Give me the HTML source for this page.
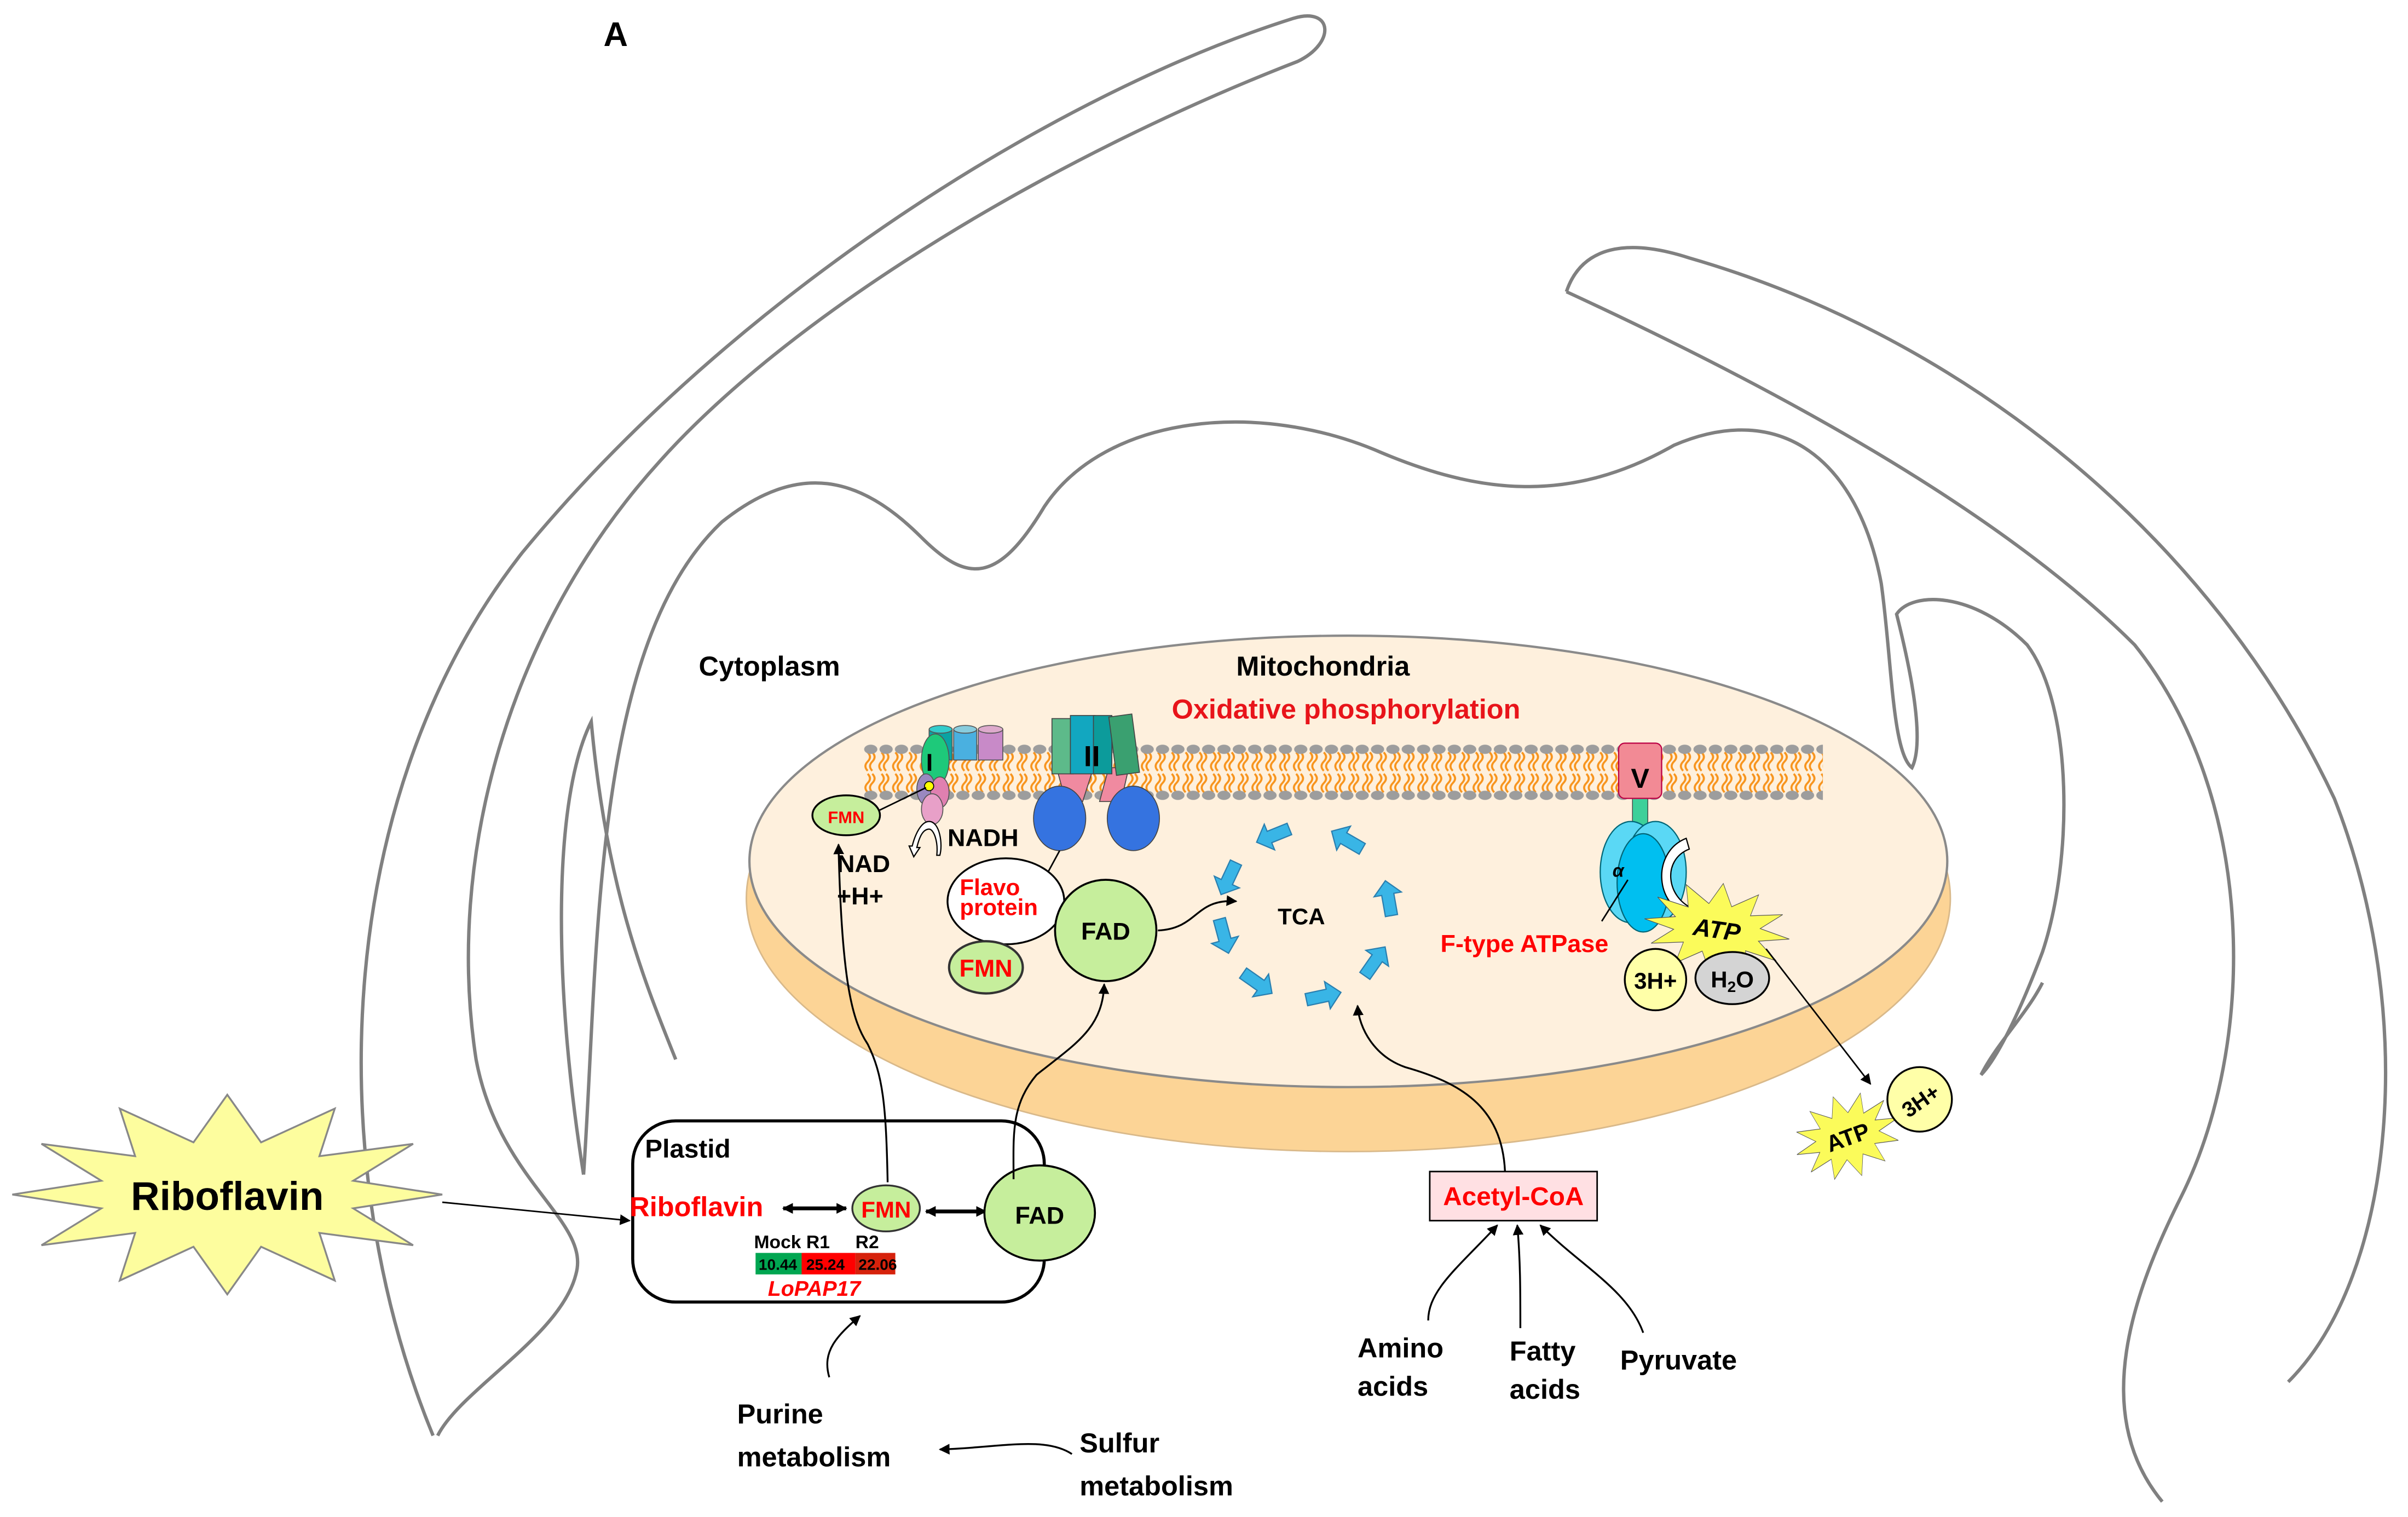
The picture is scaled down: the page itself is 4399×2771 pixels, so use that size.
<!DOCTYPE html>
<html><head><meta charset="utf-8"><style>
html,body{margin:0;padding:0;background:#fff;}
svg{display:block}
text{font-family:"Liberation Sans",sans-serif;font-weight:bold}
</style></head><body>
<svg width="4399" height="2771" viewBox="0 0 1568 988" preserveAspectRatio="none" xmlns="http://www.w3.org/2000/svg">
<defs>
<marker id="ah" viewBox="0 0 10 10" refX="9" refY="5" markerWidth="7" markerHeight="7" orient="auto-start-reverse" markerUnits="userSpaceOnUse"><path d="M0,0 L10,5 L0,10 z" fill="#000"/></marker>
<polygon id="star" points="288,778 230,787 269,811 208,803 218,834 170,812 148,843 126,812 78,834 88,803 27,811 66,787 8,778 66,769 27,745 88,753 78,722 126,744 148,713 170,744 218,722 208,753 269,745 230,769"/>
<pattern id="lip" x="562" y="489" width="9" height="28" patternUnits="userSpaceOnUse">
<path d="M3,1 q3,3 0,6 q-3,3 0,6 M6,15 q3,3 0,6 q-3,3 0,6" stroke="#f7941d" stroke-width="1.3" fill="none"/>
<path d="M6,1 q3,3 0,6 q-3,3 0,6 M3,15 q3,3 0,6 q-3,3 0,6" stroke="#f7941d" stroke-width="1.3" fill="none"/>
</pattern>
<pattern id="dots" x="562" y="485" width="10" height="36" patternUnits="userSpaceOnUse">
<ellipse cx="5" cy="3" rx="4.3" ry="3" fill="#9d9d9d"/>
<ellipse cx="5" cy="33" rx="4.3" ry="3" fill="#9d9d9d"/>
</pattern>
<g id="tcaArr"><path d="M-11,-4 L3,-4 L3,-9 L12,0 L3,9 L3,4 L-11,4 z" fill="#39b5e6" stroke="#2a7fb0" stroke-width="0.8"/></g>
</defs>

<!-- grey outlines -->
<g fill="none" stroke="#808080" stroke-width="2.2">
<path d="M282,935 C210,760 215,520 340,360 C480,190 690,60 842,12 C868,4 870,28 845,40 C690,100 520,200 430,300 C330,410 290,560 310,690 C325,770 385,795 375,830 C365,870 300,905 285,935"/>
<path d="M380,765 C360,640 360,520 385,470 C395,580 420,640 440,690 M380,765 C390,620 385,420 470,340 C520,300 560,310 600,350 C630,380 650,380 680,330 C720,270 820,260 900,295 C960,320 1020,330 1090,290 C1160,260 1210,300 1225,380 C1232,430 1232,490 1245,500 C1255,480 1240,420 1235,400 C1245,385 1285,385 1320,420 C1350,460 1350,560 1330,620 C1315,660 1300,690 1290,700 C1300,680 1320,660 1330,640"/>
<path d="M1020,190 C1030,160 1060,155 1100,168 C1280,220 1440,350 1520,520 C1575,660 1560,830 1490,900 M1020,190 C1150,250 1300,330 1390,420 C1470,520 1470,680 1420,780 C1390,840 1360,920 1408,978"/>
</g>

<!-- mitochondria -->
<ellipse cx="878" cy="585" rx="392" ry="165" fill="#fcd496" stroke="#d9b98a" stroke-width="1"/>
<ellipse cx="878" cy="561" rx="390" ry="147" fill="#fef0dd" stroke="#8a8a8a" stroke-width="1.5"/>

<!-- membrane -->
<rect x="562" y="489" width="625" height="28" fill="url(#lip)"/>
<rect x="562" y="485" width="625" height="36" fill="url(#dots)"/>

<!-- Complex I -->
<g stroke="#555" stroke-width="0.6">
<rect x="605" y="475" width="15" height="20" fill="#0aa3a3"/><ellipse cx="612.5" cy="475" rx="7.5" ry="2.5" fill="#3cc"/>
<rect x="621" y="475" width="15" height="20" fill="#4ab0e0"/><ellipse cx="628.5" cy="475" rx="7.5" ry="2.5" fill="#8cd"/>
<rect x="637" y="475" width="16" height="20" fill="#c88ac8"/><ellipse cx="645" cy="475" rx="8" ry="2.5" fill="#dac"/>
<ellipse cx="609" cy="495" rx="9" ry="17" fill="#1ec97a"/>
<ellipse cx="603" cy="514" rx="6" ry="10" fill="#9a88c0"/>
<ellipse cx="612" cy="516" rx="6" ry="10" fill="#e080b0"/>
<ellipse cx="607" cy="527" rx="7" ry="10" fill="#e8a0c8"/>
<circle cx="605" cy="512" r="3" fill="#ff0" stroke="#000"/>
</g>
<text x="603" y="502" font-family="Liberation Serif" font-size="16" fill="#000">I</text>
<line x1="603" y1="513" x2="572" y2="528" stroke="#000" stroke-width="1"/>
<ellipse cx="551" cy="531" rx="22" ry="13" fill="#c6ee9c" stroke="#000" stroke-width="1.2"/>
<text x="551" y="536" font-size="11" fill="#f00" text-anchor="middle" font-weight="normal">FMN</text>
<path d="M605,535 C612,535 614,550 612,557 L610,557 C611,548 608,540 605,540 C600,540 598,548 597,552 L599,552 L595,558 L592,551 L594,551 C596,543 600,535 605,535z" fill="#fff" stroke="#000" stroke-width="0.8"/>
<text x="617" y="551" font-size="16" fill="#000">NADH</text>
<text x="545" y="568" font-size="16" fill="#000">NAD</text>
<text x="545" y="589" font-size="16" fill="#000">+H+</text>

<!-- Complex II -->
<g stroke="#444" stroke-width="0.6">
<path d="M688,500 L694,522 L705,522 L712,500z" fill="#f08aa0"/>
<path d="M722,500 L716,522 L730,522 L735,500z" fill="#f08aa0"/>
<rect x="685" y="468" width="14" height="36" fill="#5dba8a"/>
<rect x="697" y="466" width="16" height="38" fill="#12a7c0"/>
<rect x="712" y="466" width="12" height="38" fill="#0c9b9b"/>
<path d="M722,467 L737,465 L742,503 L727,505z" fill="#3aa070"/>
<ellipse cx="690" cy="533" rx="17" ry="21" fill="#3573e0"/>
<ellipse cx="738" cy="533" rx="17" ry="21" fill="#3573e0"/>
</g>
<text x="711" y="499" font-family="Liberation Serif" font-size="19" text-anchor="middle" fill="#000">II</text>
<line x1="690" y1="554" x2="677" y2="578" stroke="#000" stroke-width="1"/>

<ellipse cx="655" cy="587" rx="38" ry="28" fill="#fff" stroke="#000" stroke-width="1.2"/>
<text x="625" y="583" font-size="15" fill="#f00">Flavo</text>
<text x="625" y="596" font-size="15" fill="#f00">protein</text>
<circle cx="720" cy="606" r="33" fill="#c6ee9c" stroke="#000" stroke-width="1.3"/>
<text x="720" y="612" font-size="16" text-anchor="middle" fill="#000">FAD</text>
<ellipse cx="642" cy="630" rx="24" ry="17" fill="#c6ee9c" stroke="#333" stroke-width="1.5"/>
<text x="642" y="636" font-size="16" text-anchor="middle" fill="#f00">FMN</text>

<!-- TCA -->
<g transform="translate(850,595)">
<use href="#tcaArr" transform="rotate(-60) translate(55,0) rotate(-90)"/>
<use href="#tcaArr" transform="rotate(-112) translate(55,0) rotate(-90)"/>
<use href="#tcaArr" transform="rotate(-155) translate(55,0) rotate(-90)"/>
<use href="#tcaArr" transform="rotate(165) translate(55,0) rotate(-90)"/>
<use href="#tcaArr" transform="rotate(125) translate(55,0) rotate(-90)"/>
<use href="#tcaArr" transform="rotate(78) translate(55,0) rotate(-90)"/>
<use href="#tcaArr" transform="rotate(35) translate(55,0) rotate(-90)"/>
<use href="#tcaArr" transform="rotate(-10) translate(55,0) rotate(-90)"/>
</g>
<text x="832" y="602" font-size="15" fill="#000">TCA</text>
<path d="M754,606 C780,605 778,585 805,587" fill="none" stroke="#000" stroke-width="1.2" marker-end="url(#ah)"/>

<!-- F-type ATPase -->
<rect x="1063" y="520" width="10" height="28" fill="#3dd09a" stroke="#444" stroke-width="0.5"/>
<rect x="1054" y="484" width="28" height="36" rx="4" fill="#f28a95" stroke="#b04" stroke-width="0.8"/>
<text x="1068" y="513" font-family="Liberation Serif" font-size="18" text-anchor="middle" fill="#000">V</text>
<ellipse cx="1062" cy="568" rx="20" ry="33" fill="#5ad8f5" stroke="#067" stroke-width="0.8"/>
<ellipse cx="1078" cy="568" rx="20" ry="33" fill="#5ad8f5" stroke="#067" stroke-width="0.8"/>
<ellipse cx="1070" cy="575" rx="17" ry="32" fill="#00bff0" stroke="#067" stroke-width="0.8"/>
<text x="1050" y="571" font-family="Liberation Serif" font-style="italic" font-size="12" fill="#000">α</text>
<line x1="1060" y1="573" x2="1043" y2="600" stroke="#000" stroke-width="1"/>
<path d="M1100,553 C1082,560 1085,585 1103,592 L1103,587 L1110,595 L1103,601 L1103,597 C1077,592 1075,555 1098,546z" fill="#fff" stroke="#000" stroke-width="0.8"/>
<text x="938" y="620" font-size="16" fill="#f00">F-type ATPase</text>
<use href="#star" fill="#fbfb5a" stroke="#555" stroke-width="1" vector-effect="non-scaling-stroke" transform="translate(1118,605) rotate(8) scale(0.34,0.46) translate(-148,-778)"/>
<text x="1118" y="611" font-size="16" font-style="italic" text-anchor="middle" fill="#000" transform="rotate(8 1118 605)">ATP</text>
<circle cx="1078" cy="638" r="20" fill="#ffffa8" stroke="#000" stroke-width="1.2"/>
<text x="1078" y="644" font-size="15" text-anchor="middle" fill="#000">3H+</text>
<ellipse cx="1128" cy="637" rx="24" ry="17" fill="#d4d4d4" stroke="#000" stroke-width="1.2"/>
<text x="1128" y="643" font-size="15" text-anchor="middle" fill="#000">H<tspan font-size="10" dy="3">2</tspan><tspan dy="-3">O</tspan></text>
<line x1="1150" y1="618" x2="1218" y2="706" stroke="#000" stroke-width="1" marker-end="url(#ah)"/>
<use href="#star" fill="#fbfb5a" stroke="#555" stroke-width="1" vector-effect="non-scaling-stroke" transform="translate(1203,740) rotate(-20) scale(0.25,0.42) translate(-148,-778)"/>
<text x="1203" y="746" font-size="15" text-anchor="middle" fill="#000" transform="rotate(-20 1203 740)">ATP</text>
<circle cx="1250" cy="716" r="21" fill="#ffffa8" stroke="#000" stroke-width="1.2"/>
<text x="1250" y="722" font-size="14" text-anchor="middle" fill="#000" transform="rotate(-35 1250 716)">3H+</text>

<!-- labels -->
<text x="393" y="30" font-size="22" fill="#000">A</text>
<text x="455" y="440" font-size="18" fill="#000">Cytoplasm</text>
<text x="805" y="440" font-size="18" fill="#000">Mitochondria</text>
<text x="763" y="468" font-size="18" fill="#e8141a">Oxidative phosphorylation</text>

<!-- Riboflavin star -->
<use href="#star" fill="#fdfd9e" stroke="#888" stroke-width="1.2"/>
<text x="148" y="788" font-size="26" text-anchor="middle" fill="#000">Riboflavin</text>
<line x1="288" y1="783" x2="410" y2="795" stroke="#000" stroke-width="1" marker-end="url(#ah)"/>

<!-- Plastid -->
<rect x="412" y="730" width="268" height="118" rx="28" fill="#fff" stroke="#000" stroke-width="2"/>
<text x="420" y="754" font-size="17" fill="#000">Plastid</text>
<text x="410" y="792" font-size="18" fill="#f00">Riboflavin</text>
<line x1="510" y1="787" x2="551" y2="787" stroke="#000" stroke-width="2.5" marker-start="url(#ah)" marker-end="url(#ah)"/>
<ellipse cx="577" cy="787" rx="22" ry="15" fill="#c6ee9c" stroke="#333" stroke-width="1.2"/>
<text x="577" y="793" font-size="15" text-anchor="middle" fill="#f00">FMN</text>
<line x1="603" y1="789" x2="642" y2="789" stroke="#000" stroke-width="2.5" marker-start="url(#ah)" marker-end="url(#ah)"/>
<ellipse cx="677" cy="790" rx="36" ry="31" fill="#c6ee9c" stroke="#000" stroke-width="1.3"/>
<text x="677" y="797" font-size="16" text-anchor="middle" fill="#000">FAD</text>
<text x="491" y="813" font-size="12" fill="#000">Mock R1</text><text x="557" y="813" font-size="12" fill="#000">R2</text>
<rect x="492" y="816" width="30" height="14" fill="#00a651"/>
<rect x="522" y="816" width="35" height="14" fill="#f00"/>
<rect x="557" y="816" width="26" height="14" fill="#d6220c"/>
<g font-family="Liberation Serif" font-weight="normal" font-size="10" fill="#000">
<text x="494" y="827">10.44</text><text x="525" y="827">25.24</text><text x="559" y="827">22.06</text></g>
<text x="500" y="844" font-size="14" font-style="italic" fill="#f00">LoPAP17</text>

<!-- connectors -->
<g fill="none" stroke="#000" stroke-width="1.2">
<path d="M578,770 C577,720 575,700 565,680 C555,665 548,640 546,550" marker-end="url(#ah)"/>
<path d="M660,768 C660,740 658,720 675,700 C700,680 718,670 719,641" marker-end="url(#ah)"/>
<path d="M980,763 C978,720 950,705 915,695 C895,688 885,670 884,655" marker-end="url(#ah)"/>
<path d="M930,860 C930,840 950,825 975,798" marker-end="url(#ah)"/>
<path d="M990,865 C990,840 990,820 988,798" marker-end="url(#ah)"/>
<path d="M1070,868 C1060,840 1030,825 1003,798" marker-end="url(#ah)"/>
<path d="M540,897 C535,880 545,870 560,857" marker-end="url(#ah)"/>
<path d="M698,947 C680,935 650,943 612,944" marker-end="url(#ah)"/>
</g>
<rect x="931" y="763" width="109" height="32" fill="#ffe0e3" stroke="#000" stroke-width="1"/>
<text x="985.5" y="785" font-size="17" text-anchor="middle" fill="#f00">Acetyl-CoA</text>
<g font-size="18" fill="#000">
<text x="884" y="884">Amino</text><text x="884" y="909">acids</text>
<text x="983" y="886">Fatty</text><text x="983" y="911">acids</text>
<text x="1055" y="892">Pyruvate</text>
<text x="480" y="927">Purine</text><text x="480" y="955">metabolism</text>
<text x="703" y="946">Sulfur</text><text x="703" y="974">metabolism</text>
</g>
</svg>
</body></html>
